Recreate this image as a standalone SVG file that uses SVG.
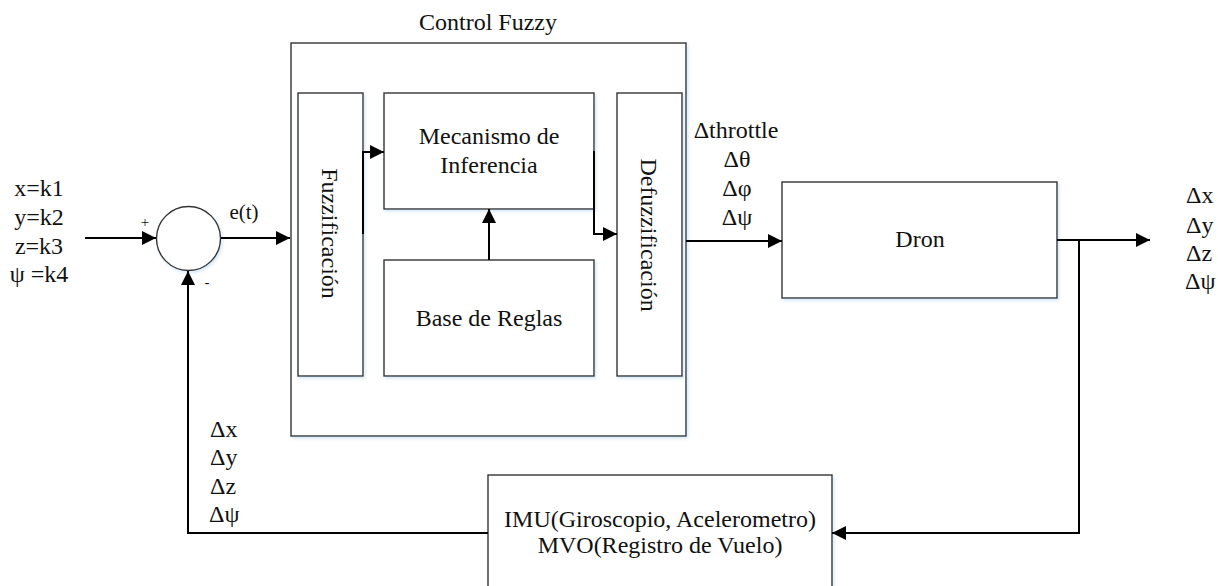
<svg xmlns="http://www.w3.org/2000/svg" width="1218" height="586" viewBox="0 0 1218 586" font-family="'Liberation Serif', 'Times New Roman', serif" font-size="24">
  <style>
    .box { fill: #ffffff; stroke: #333333; stroke-width: 1.4; }
    .sh { filter: url(#soft); }
    .wire { fill: none; stroke: #000000; stroke-width: 2; }
    .lbl { font-family: "Liberation Serif", "Times New Roman", serif; font-size: 24px; fill: #111111; }
    .mid { text-anchor: middle; }
    .small { font-size: 15px; }
  </style>
  <defs>
    <marker id="arrow" markerUnits="userSpaceOnUse" markerWidth="14" markerHeight="14" refX="14" refY="7" orient="auto">
      <path d="M0,0 L14,7 L0,14 Z" fill="#000000"/>
    </marker>
    <filter id="soft" x="-10%" y="-10%" width="130%" height="130%">
      <feDropShadow dx="1.5" dy="2" stdDeviation="1.5" flood-color="#8fb8e0" flood-opacity="0.35"/>
    </filter>
  </defs>
  <rect width="1218" height="586" fill="#ffffff"/>

  <!-- inputs -->
  <g id="inputs">
    <text class="lbl mid" x="39" y="196">x=k1</text>
    <text class="lbl mid" x="39" y="225">y=k2</text>
    <text class="lbl mid" x="39" y="254">z=k3</text>
    <text class="lbl mid" x="39" y="282">ψ =k4</text>
  </g>

  <!-- summing junction -->
  <g id="sum">
    <circle class="box sh" cx="188.5" cy="238.5" r="32"/>
    <text class="lbl mid small" x="145" y="227">+</text>
    <text class="lbl mid small" x="207" y="287">-</text>
  </g>
  <text id="error-label" class="lbl mid" x="244" y="219" style="font-size:21px">e(t)</text>

  <!-- fuzzy controller -->
  <g id="control-fuzzy">
    <rect class="box sh" x="291" y="43" width="395" height="393"/>
    <text class="lbl mid" x="488" y="30">Control Fuzzy</text>
  </g>
  <g id="fuzzificacion">
    <rect class="box sh" x="298" y="93" width="65" height="283"/>
    <text class="lbl mid" transform="translate(322 233.5) rotate(90)">Fuzzificación</text>
  </g>
  <g id="inferencia">
    <rect class="box sh" x="384" y="93" width="210" height="116"/>
    <text class="lbl mid" x="489" y="144">Mecanismo de</text>
    <text class="lbl mid" x="489" y="173">Inferencia</text>
  </g>
  <g id="reglas">
    <rect class="box sh" x="384" y="260" width="210" height="116"/>
    <text class="lbl mid" x="489" y="326">Base de Reglas</text>
  </g>
  <g id="defuzzificacion">
    <rect class="box sh" x="617" y="93" width="65" height="283"/>
    <text class="lbl mid" transform="translate(641 235) rotate(90)">Defuzzificación</text>
  </g>

  <!-- control outputs -->
  <g id="control-outputs">
    <text class="lbl mid" x="736" y="138">Δthrottle</text>
    <text class="lbl mid" x="737" y="167">Δθ</text>
    <text class="lbl mid" x="737" y="196">Δφ</text>
    <text class="lbl mid" x="737" y="225">Δψ</text>
  </g>

  <!-- plant -->
  <g id="dron">
    <rect class="box sh" x="782" y="182" width="275" height="116"/>
    <text class="lbl mid" x="920" y="247">Dron</text>
  </g>

  <g id="state-outputs">
    <text class="lbl" x="1186" y="203">Δx</text>
    <text class="lbl" x="1186" y="233">Δy</text>
    <text class="lbl" x="1186" y="261">Δz</text>
    <text class="lbl" x="1185" y="289">Δψ</text>
  </g>

  <!-- sensors -->
  <g id="sensores">
    <rect class="box sh" x="488" y="475" width="344" height="114"/>
    <text class="lbl mid" x="660" y="527">IMU(Giroscopio, Acelerometro)</text>
    <text class="lbl mid" x="660" y="553">MVO(Registro de Vuelo)</text>
  </g>

  <g id="feedback-labels">
    <text class="lbl" x="210" y="437">Δx</text>
    <text class="lbl" x="210" y="465">Δy</text>
    <text class="lbl" x="210" y="494">Δz</text>
    <text class="lbl" x="209" y="522">Δψ</text>
  </g>

  <!-- connectors -->
  <g id="connectors">
    <path class="wire" d="M85,238 L156,238" marker-end="url(#arrow)"/>
    <path class="wire" d="M221,238 L290,238" marker-end="url(#arrow)"/>
    <path class="wire" d="M363,234 L363,152 L384,152" marker-end="url(#arrow)"/>
    <path class="wire" d="M594,151 L594,234 L617,234" marker-end="url(#arrow)"/>
    <path class="wire" d="M489,260 L489,209" marker-end="url(#arrow)"/>
    <path class="wire" d="M686,241 L782,241" marker-end="url(#arrow)"/>
    <path class="wire" d="M1057,240 L1150,240" marker-end="url(#arrow)"/>
    <path class="wire" d="M1079,240 L1079,533 L832,533" marker-end="url(#arrow)"/>
    <path class="wire" d="M488,533 L188,533 L188,271" marker-end="url(#arrow)"/>
  </g>
</svg>
